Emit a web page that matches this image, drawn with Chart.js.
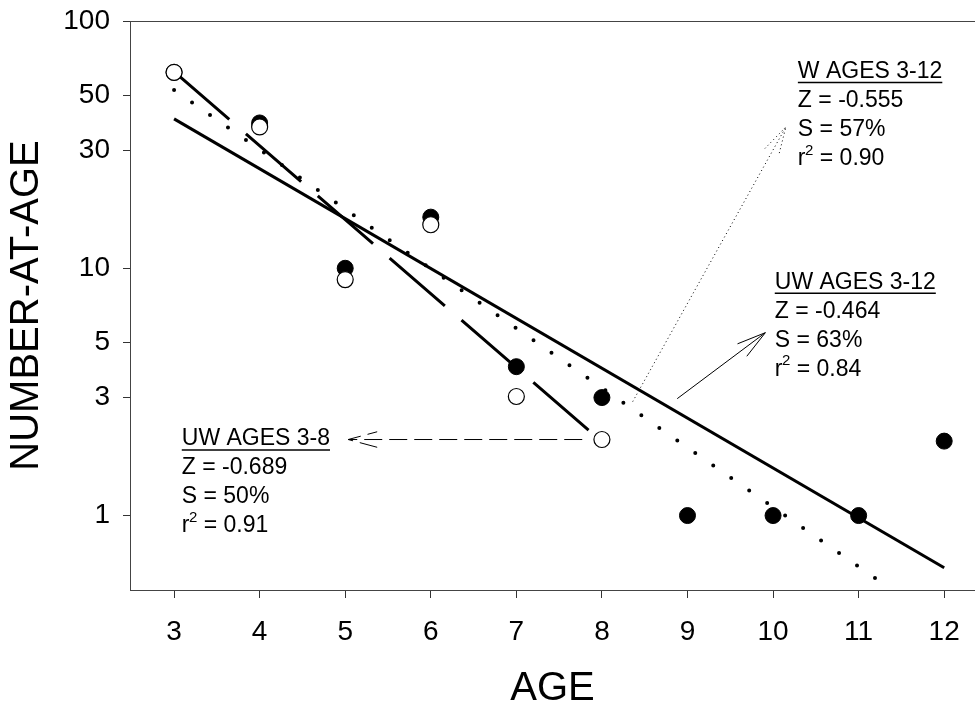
<!DOCTYPE html>
<html><head><meta charset="utf-8">
<script src="https://cdn.jsdelivr.net/npm/chart.js@4/dist/chart.umd.min.js"></script>
<style>html,body{margin:0;padding:0;background:#fff;overflow:hidden}#wrap{width:975px;height:711px;position:relative}</style>
</head><body><div id="wrap"><canvas id="c" width="975" height="711"></canvas></div>
<script>
// ---- data ----
const ages = [3, 4, 5, 6, 7, 8, 9, 10, 11, 12];
const filledValues = [62, 38.7, 10, 16.1, 4, 3, 1, 1, 1, 2];
const openAges = [3, 4, 5, 6, 7, 8];
const openValues = [62, 37.3, 9, 15, 3.03, 2.03];
const fitUW312Ages = [3, 12];
const fitUW312Values = [40.2, 0.615];
const fitW312Ages = [3, 11.22];
const fitW312Values = [52.6, 0.55];
const fitUW38Ages = [3, 8];
const fitUW38Values = [62.4, 1.99];
const xTickValues = [3, 4, 5, 6, 7, 8, 9, 10, 11, 12];
const yTickValues = [1, 3, 5, 10, 30, 50, 100];
const textW312 = ['W AGES 3-12', 'Z = -0.555', 'S = 57%', 'r2 = 0.90'];
const textUW312 = ['UW AGES 3-12', 'Z = -0.464', 'S = 63%', 'r2 = 0.84'];
const textUW38 = ['UW AGES 3-8', 'Z = -0.689', 'S = 50%', 'r2 = 0.91'];
// annotation anchors in data coordinates (age, number)
const textAnchorW312 = [10.29, 62.5];
const textAnchorUW312 = [10.02, 8.78];
const textAnchorUW38 = [3.09, 2.04];
const arrowUW38 = [[7.77, 2.03], [5.035, 2.03]];
const arrowUW312 = [[8.88, 2.97], [9.91, 5.49]];
const arrowW312 = [[8.36, 2.89], [10.15, 37.3]];

const FONT = "'Liberation Sans', Arial, Helvetica, sans-serif";
Chart.defaults.font.family = FONT;
Chart.defaults.color = '#000';

const pts = (xs, ys) => xs.map((x, i) => ({x: x, y: ys[i]}));

const textBlocks = [
  {lines: textW312, at: textAnchorW312},
  {lines: textUW312, at: textAnchorUW312},
  {lines: textUW38, at: textAnchorUW38}
];
const arrows = [
  {seg: arrowUW38, dash: [18, 7], width: 1},
  {seg: arrowUW312, dash: [], width: 1},
  {seg: arrowW312, dash: [1, 3], width: 1}
];

const annot = {
  id: 'annot',
  afterDatasetsDraw(chart) {
    const ctx = chart.ctx, xs = chart.scales.x, ys = chart.scales.y;
    const px = v => xs.getPixelForValue(v), py = v => ys.getPixelForValue(v);
    arrows.forEach(a => {
      const x1 = px(a.seg[0][0]), y1 = py(a.seg[0][1]);
      const x2 = px(a.seg[1][0]), y2 = py(a.seg[1][1]);
      ctx.save();
      ctx.strokeStyle = '#000'; ctx.lineWidth = a.width; ctx.setLineDash(a.dash);
      ctx.beginPath(); ctx.moveTo(x1, y1); ctx.lineTo(x2, y2); ctx.stroke();
      const ang = Math.atan2(y1 - y2, x1 - x2), L = 30, h = 15 * Math.PI / 180;
      ctx.beginPath();
      ctx.moveTo(x2 + L * Math.cos(ang + h), y2 + L * Math.sin(ang + h));
      ctx.lineTo(x2, y2);
      ctx.lineTo(x2 + L * Math.cos(ang - h), y2 + L * Math.sin(ang - h));
      ctx.stroke();
      ctx.restore();
    });
    ctx.save();
    ctx.fillStyle = '#000'; ctx.strokeStyle = '#000';
    ctx.textBaseline = 'middle'; ctx.textAlign = 'left';
    const big = '23px ' + FONT, small = '15px ' + FONT;
    textBlocks.forEach(b => {
      const x = px(b.at[0]), y0 = py(b.at[1]);
      b.lines.forEach((t, i) => {
        const y = y0 + i * 29;
        ctx.font = big;
        if (t.startsWith('r2')) {
          ctx.fillText('r', x, y);
          const wr = ctx.measureText('r').width;
          ctx.font = small;
          ctx.fillText('2', x + wr - 0.5, y - 8);
          const w2 = ctx.measureText('2').width;
          ctx.font = big;
          ctx.fillText(t.slice(2), x + wr - 0.5 + w2, y);
        } else {
          ctx.fillText(t, x, y);
        }
        if (i === 0) {
          const w = ctx.measureText(t).width;
          ctx.lineWidth = 1.6;
          ctx.beginPath(); ctx.moveTo(x, y + 11); ctx.lineTo(x + w, y + 11); ctx.stroke();
        }
      });
    });
    ctx.restore();
  }
};

new Chart(document.getElementById('c'), {
  type: 'scatter',
  data: {
    datasets: [
      {label: 'open', data: pts(openAges, openValues), order: 0,
       pointRadius: 8, pointBackgroundColor: '#fff', pointBorderColor: '#000', pointBorderWidth: 1.2, showLine: false},
      {label: 'filled', data: pts(ages, filledValues), order: 1,
       pointRadius: 8, pointBackgroundColor: '#000', pointBorderColor: '#000', pointBorderWidth: 1, showLine: false},
      {label: 'UW 3-12', data: pts(fitUW312Ages, fitUW312Values), order: 2, showLine: true,
       pointRadius: 0, borderColor: '#000', borderWidth: 3, fill: false},
      {label: 'W 3-12', data: pts(fitW312Ages, fitW312Values), order: 3, showLine: true,
       pointRadius: 0, borderColor: '#000', borderWidth: 4, borderDash: [0, 21.9], borderCapStyle: 'round', fill: false},
      {label: 'UW 3-8', data: pts(fitUW38Ages, fitUW38Values), order: 4, showLine: true,
       pointRadius: 0, borderColor: '#000', borderWidth: 3, borderDash: [73, 22], fill: false}
    ]
  },
  options: {
    responsive: false, animation: false, devicePixelRatio: 1,
    layout: {autoPadding: false, padding: {top: 21, right: 0, left: 0, bottom: 0}},
    plugins: {legend: {display: false}, tooltip: {enabled: false}},
    scales: {
      x: {
        type: 'linear', position: 'bottom', min: 2.485, max: 12.36,
        afterBuildTicks: s => { s.ticks = xTickValues.map(v => ({value: v})); },
        afterFit: s => { s.height = 121; s.paddingLeft = 0; s.paddingRight = 0; },
        grid: {drawOnChartArea: false, drawTicks: true, tickLength: 8, color: '#333', lineWidth: 1},
        border: {display: true, color: '#444', width: 1},
        ticks: {font: {size: 28}, padding: 17, maxRotation: 0, autoSkip: false, callback: v => String(v)},
        title: {display: true, text: 'AGE', font: {size: 40, lineHeight: 1}, padding: {top: 0, bottom: 2}}
      },
      xTop: {
        type: 'linear', position: 'top', min: 2.485, max: 12.36,
        afterFit: s => { s.height = 0; s.paddingLeft = 0; s.paddingRight = 0; },
        grid: {drawOnChartArea: false, drawTicks: false},
        border: {display: true, color: '#444', width: 1},
        ticks: {display: false}
      },
      y: {
        type: 'logarithmic', min: 0.5, max: 100,
        afterBuildTicks: s => { s.ticks = yTickValues.map(v => ({value: v})); },
        afterFit: s => { s.width = 130; s.paddingTop = 0; s.paddingBottom = 0; },
        grid: {drawOnChartArea: false, drawTicks: true, tickLength: 7, color: '#333', lineWidth: 1},
        border: {display: true, color: '#444', width: 1},
        ticks: {font: {size: 28}, padding: 13, autoSkip: false, callback: v => String(v)},
        title: {display: true, text: 'NUMBER-AT-AGE', font: {size: 40, lineHeight: 1}, padding: {top: 7, bottom: 0}}
      }
    }
  },
  plugins: [annot]
});
</script></body></html>
